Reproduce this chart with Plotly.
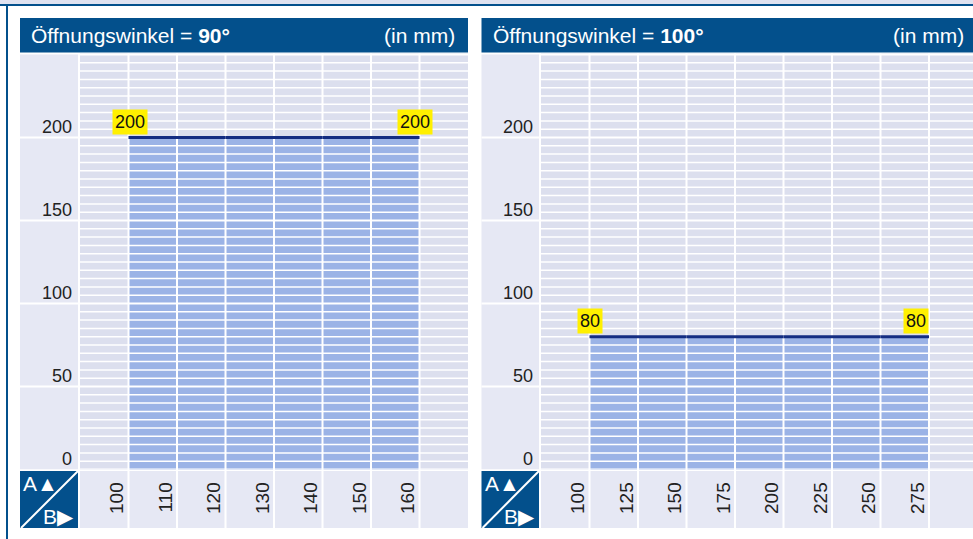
import plotly.graph_objects as go

W, H = 973, 539

# ---------------- data ----------------
cats_90 = [100, 110, 120, 130, 140, 150, 160]
vals_90 = [None, 200, 200, 200, 200, 200, 200]
cats_100 = [100, 125, 150, 175, 200, 225, 250, 275]
vals_100 = [None, 80, 80, 80, 80, 80, 80, 80]
y_ticks = [0, 50, 100, 150, 200]
angles = ["90°", "100°"]
title_prefix = "Öffnungswinkel = "
unit_label = "(in mm)"
corner_top = "A▲"
corner_bottom = "B▶"

# ---------------- styles ----------------
HEADER = "#03508c"
LAV = "#e6e8f4"
PLOTBG = "#dcdfee"
BARFILL = "#9bb3e6"
EDGE = "#142d82"
YELLOW = "#fff000"
TXT = "#222222"
NUMFONT = "Liberation Sans Narrow, Arial Narrow, Liberation Sans, Arial, sans-serif"
HEAD_FONT = "Liberation Sans, Arial, sans-serif"

COL_W = 48.5
Y_MAX = 250.6
PLOT_TOP, PLOT_BOT = 53.5, 469.5
ROW_TOP, ROW_BOT = 471, 528
HEAD_TOP, HEAD_BOT = 18, 52.5


def fx(p):
    return p / W


def fy(p):
    return 1 - p / H


panels = [
    dict(cats=cats_90, vals=vals_90, angle=angles[0], left=20, plot_left=80,
         plot_right=468, unit_right=457, lbl_shift=(1, -5)),
    dict(cats=cats_100, vals=vals_100, angle=angles[1], left=481.5, plot_left=541,
         plot_right=973, unit_right=966, lbl_shift=(0, -13.5)),
]

fig = go.Figure()
shapes_below = []
shapes_above = []
annotations = []

# frame
shapes_below.append(dict(type="rect", xref="paper", yref="paper", x0=0, x1=1, y0=fy(4), y1=1,
                         fillcolor="#dfe2f0", line=dict(width=0), layer="below"))
shapes_below.append(dict(type="rect", xref="paper", yref="paper", x0=0, x1=1, y0=fy(6), y1=fy(4),
                         fillcolor=HEADER, line=dict(width=0), layer="below"))
shapes_below.append(dict(type="rect", xref="paper", yref="paper", x0=fx(6), x1=fx(8), y0=0, y1=fy(4),
                         fillcolor=HEADER, line=dict(width=0), layer="below"))

layout_axes = {}
for k, p in enumerate(panels):
    n = "" if k == 0 else str(k + 1)
    xr, yr = "x" + n, "y" + n
    xmax = (p["plot_right"] - p["plot_left"]) / COL_W
    ncat = len(p["cats"])

    fig.add_trace(go.Bar(
        x=[i + 0.5 for i in range(ncat)], y=p["vals"], width=1,
        marker=dict(color=BARFILL, line=dict(width=0)),
        xaxis=xr, yaxis=yr, hoverinfo="skip", showlegend=False))

    layout_axes["xaxis" + n] = dict(
        domain=[fx(p["plot_left"]), fx(p["plot_right"])], range=[0, xmax],
        anchor=yr, showgrid=False, zeroline=False, showline=False, fixedrange=True,
        automargin=False,
        tickmode="array", tickvals=[i + 0.5 for i in range(ncat)],
        ticktext=[str(c) for c in p["cats"]], tickangle=-90,
        tickfont=dict(family=NUMFONT, size=19, color=TXT),
        ticklabelshift=13, ticklabelstandoff=8, ticks="")
    layout_axes["yaxis" + n] = dict(
        domain=[fy(PLOT_BOT), fy(PLOT_TOP)], range=[0, Y_MAX],
        anchor=xr, showgrid=False, zeroline=False, showline=False, fixedrange=True,
        automargin=False,
        tickmode="array", tickvals=y_ticks, ticktext=[str(v) for v in y_ticks],
        tickfont=dict(family=NUMFONT, size=18, color=TXT),
        ticklabelshift=-11, ticklabelstandoff=7, ticks="")

    L = p["left"]
    # header
    shapes_below.append(dict(type="rect", xref="paper", yref="paper",
                             x0=fx(L), x1=fx(p["plot_right"]), y0=fy(HEAD_BOT), y1=fy(HEAD_TOP),
                             fillcolor=HEADER, line=dict(width=0), layer="below"))
    annotations.append(dict(xref="paper", yref="paper", x=fx(L + 9), y=fy((HEAD_TOP + HEAD_BOT) / 2),
                            xanchor="left", yanchor="middle", showarrow=False,
                            text=title_prefix + "<b>" + p["angle"] + "</b>",
                            font=dict(family=HEAD_FONT, size=21, color="white")))
    annotations.append(dict(xref="paper", yref="paper", x=fx(p["unit_right"]), y=fy((HEAD_TOP + HEAD_BOT) / 2),
                            xanchor="right", yanchor="middle", showarrow=False, text=unit_label,
                            font=dict(family=HEAD_FONT, size=21, color="white")))
    # y label column
    shapes_below.append(dict(type="rect", xref="paper", yref=yr, x0=fx(L), x1=fx(p["plot_left"] - 2),
                             y0=0, y1=250, fillcolor=LAV, line=dict(width=0), layer="below"))
    for v in y_ticks[1:]:
        shapes_below.append(dict(type="line", xref="paper", yref=yr, x0=fx(L), x1=fx(p["plot_left"]),
                                 y0=v, y1=v, line=dict(color="white", width=2), layer="below"))
    # x label row
    shapes_below.append(dict(type="rect", xref="paper", yref="paper", x0=fx(p["plot_left"]),
                             x1=fx(p["plot_right"]), y0=fy(ROW_BOT), y1=fy(ROW_TOP),
                             fillcolor=LAV, line=dict(width=0), layer="below"))
    # corner cell
    shapes_below.append(dict(type="rect", xref="paper", yref="paper", x0=fx(L), x1=fx(p["plot_left"] - 2),
                             y0=fy(ROW_BOT), y1=fy(ROW_TOP), fillcolor=HEADER, line=dict(width=0),
                             layer="below"))
    shapes_below.append(dict(type="line", xref="paper", yref="paper", x0=fx(L + 1), x1=fx(p["plot_left"] - 2),
                             y0=fy(ROW_BOT), y1=fy(ROW_TOP), line=dict(color="white", width=2),
                             layer="below"))
    annotations.append(dict(xref="paper", yref="paper", x=fx(L + 1), y=fy(ROW_TOP - 1),
                            xanchor="left", yanchor="top", showarrow=False, text=corner_top,
                            font=dict(family=NUMFONT, size=21, color="white")))
    annotations.append(dict(xref="paper", yref="paper", x=fx(p["plot_left"] - 4), y=fy(ROW_BOT + 2),
                            xanchor="right", yanchor="bottom", showarrow=False, text=corner_bottom,
                            font=dict(family=NUMFONT, size=21, color="white")))

    # grid lines above the bars
    for v in range(0, 255, 5):
        shapes_above.append(dict(type="line", xref=xr, yref=yr, x0=0, x1=xmax, y0=v, y1=v,
                                 line=dict(color="white", width=2 if v % 50 == 0 else 1.5),
                                 layer="above"))
    i = 1
    while i < xmax:
        shapes_above.append(dict(type="line", xref=xr, yref="paper", x0=i, x1=i,
                                 y0=fy(ROW_BOT), y1=fy(PLOT_TOP),
                                 line=dict(color="white", width=2), layer="above"))
        i += 1
    # bar top edge + value labels
    covered = [j for j, v in enumerate(p["vals"]) if v is not None]
    for j in covered:
        shapes_above.append(dict(type="line", xref=xr, yref=yr, x0=j, x1=j + 1,
                                 y0=p["vals"][j], y1=p["vals"][j],
                                 line=dict(color=EDGE, width=3), layer="above"))
    first, last = covered[0], covered[-1]
    for xpos, val, sh in [(first, p["vals"][first], p["lbl_shift"][0]),
                          (last + 1, p["vals"][last], p["lbl_shift"][1])]:
        annotations.append(dict(xref=xr, yref=yr, x=xpos, y=val, xanchor="center", yanchor="bottom",
                                xshift=sh, yshift=3, showarrow=False,
                                text=str(val), bgcolor=YELLOW, borderpad=2,
                                font=dict(family=NUMFONT, size=18, color="#111111")))

fig.update_layout(
    width=W, height=H, margin=dict(l=0, r=0, t=0, b=0, pad=0), autosize=False,
    paper_bgcolor="white", plot_bgcolor=PLOTBG, showlegend=False, bargap=0,
    shapes=shapes_below + shapes_above, annotations=annotations, **layout_axes)

fig.write_html("out.html", config={"responsive": False, "displayModeBar": False},
               post_script="document.body.style.margin='0';document.body.style.overflow='hidden';")
